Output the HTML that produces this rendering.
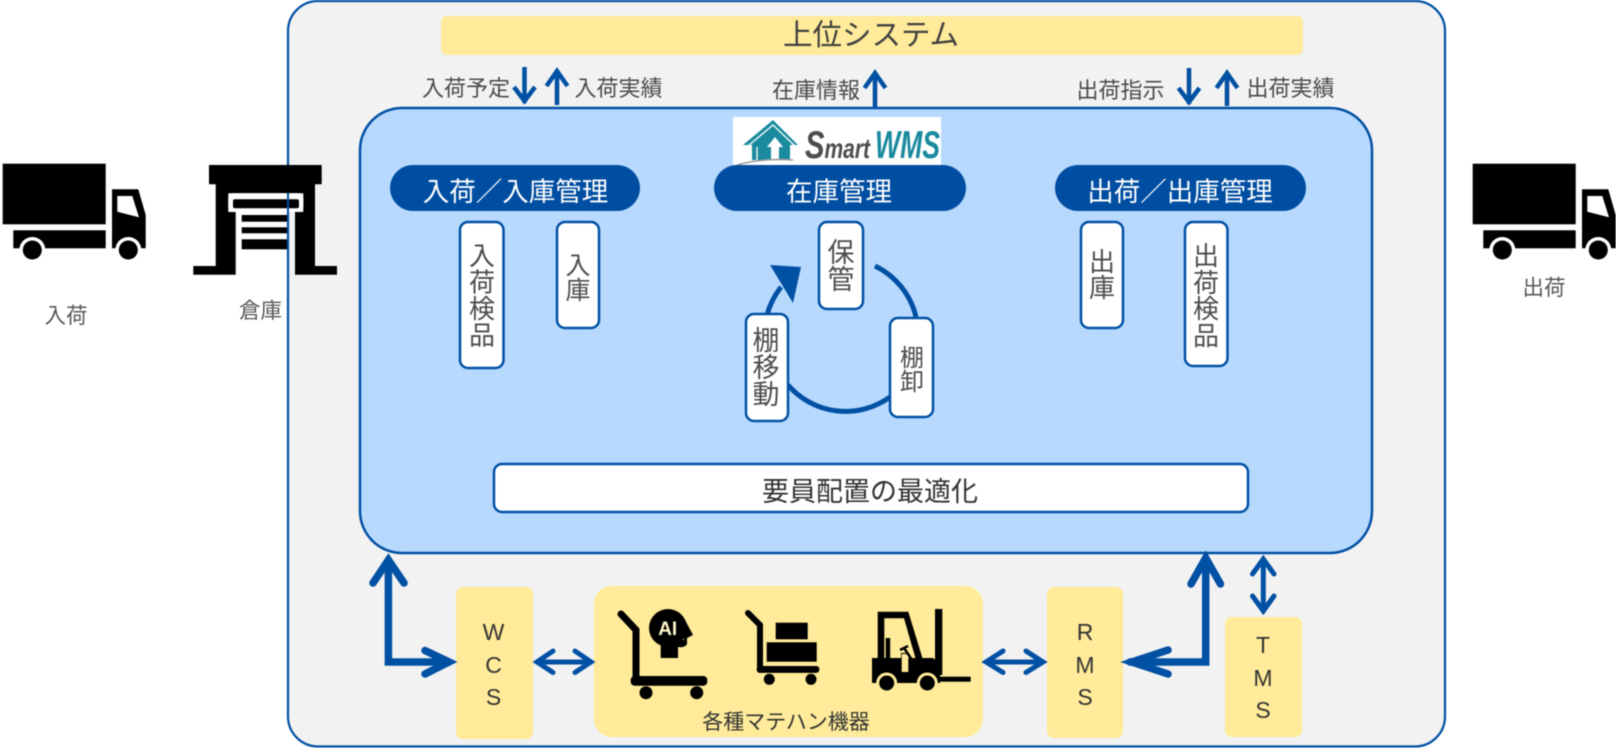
<!DOCTYPE html>
<html lang="ja"><head><meta charset="utf-8"><title>Smart WMS</title>
<style>
html,body{margin:0;padding:0;background:#fff;width:1616px;height:748px;overflow:hidden}
svg{display:block;filter:blur(.4px)}
text{font-family:"Liberation Sans","Noto Sans CJK JP",sans-serif;fill:#4a4a4a}
.m{text-anchor:middle}
.w{fill:#fff}
.v{fill:#4d4d4d}
.k{fill:#333}
.c{stroke:#0050a4;fill:none;stroke-linecap:round;stroke-linejoin:miter}
.box{fill:#fff;stroke:#0050a4;stroke-width:2.5}
.y{fill:#ffeb99}
</style></head><body>
<svg width="1616" height="748" viewBox="0 0 1616 748" xmlns="http://www.w3.org/2000/svg">
<!-- outer -->
<rect x="288" y="1" width="1157" height="745.5" rx="30" fill="#f2f2f2" stroke="#0050a4" stroke-width="2.2"/>
<rect x="441" y="16" width="862" height="39" rx="6" class="y"/>
<text x="871" y="45" font-size="29.500" class="m" style="fill:#404040">上位システム</text>
<!-- inner -->
<rect x="360" y="108" width="1012" height="445" rx="42" fill="#b8d9fe" stroke="#0050a4" stroke-width="2.5"/>

<!-- top labels -->
<text x="466" y="96" font-size="22" class="m">入荷予定</text>
<text x="618.500" y="96" font-size="22" class="m">入荷実績</text>
<text x="816" y="98" font-size="22" class="m">在庫情報</text>
<text x="1120.500" y="98" font-size="22" class="m">出荷指示</text>
<text x="1290.500" y="96" font-size="22" class="m">出荷実績</text>
<!-- top arrows -->
<g class="c" stroke-width="4.5" style="stroke-linecap:butt">
<path d="M524.500 67V103M514 87L524.500 101L535 87"/>
<path d="M557 105V70M546.500 86L557 71L567.500 86"/>
<path d="M875 108V72M864.500 88L875 73L885.500 88"/>
<path d="M1189 68V104M1178.500 88L1189 102L1199.500 88"/>
<path d="M1227 106V72M1216.500 88L1227 73L1237.500 88"/>
</g>

<!-- logo -->
<rect x="733" y="117" width="208" height="48" fill="#fff"/>
<path d="M773 120L798 145H790V160H752V145H743Z" fill="#1a8a9e"/>
<path d="M748 146L773 125L795 146" fill="none" stroke="#fff" stroke-width="1.300"/>
<path d="M775 137L783 147H779V160H771V147H767Z" fill="#fff"/>
<path d="M757 147V160" stroke="#fff" stroke-width="1.300"/>
<path d="M737 165Q760 158 793 160" stroke="#999" stroke-width="1.500" fill="none"/>
<text x="805" y="158" font-weight="bold" font-style="italic" textLength="65" lengthAdjust="spacingAndGlyphs" style="fill:#4d4d4d"><tspan font-size="39">S</tspan><tspan font-size="28">mart</tspan></text>
<text x="875" y="158" font-size="39" font-weight="bold" font-style="italic" textLength="65" lengthAdjust="spacingAndGlyphs" style="fill:#1a8a9e">WMS</text>

<!-- pills -->
<rect x="390" y="165" width="250" height="46" rx="23" fill="#004ea2"/>
<rect x="714" y="165" width="252" height="46" rx="23" fill="#004ea2"/>
<rect x="1055" y="165" width="251" height="46" rx="23" fill="#004ea2"/>
<text x="515.500" y="201" font-size="26.500" class="m w">入荷／入庫管理</text>
<text x="839" y="201" font-size="26.500" class="m w">在庫管理</text>
<text x="1180" y="201" font-size="26.500" class="m w">出荷／出庫管理</text>

<!-- cycle -->
<g class="c" stroke-width="5" style="stroke-linecap:butt">
<path d="M875 266A76 76 0 0 1 916 317"/>
<path d="M788 385A76 76 0 0 0 890 397"/>
<path d="M767 315Q771 300 781 287"/>
</g>
<path d="M770 265L801 267L793 303Z" fill="#0050a4"/>

<!-- white boxes -->
<rect x="460" y="222" width="43.500" height="146" rx="8" class="box"/>
<rect x="557" y="222" width="42" height="106" rx="8" class="box"/>
<rect x="819" y="222" width="44" height="87" rx="8" class="box"/>
<rect x="746" y="314" width="42" height="107" rx="8" class="box"/>
<rect x="890" y="318" width="43" height="99" rx="8" class="box"/>
<rect x="1081" y="222" width="42" height="106" rx="8" class="box"/>
<rect x="1185" y="222" width="42.500" height="144" rx="8" class="box"/>
<text font-size="26" class="m v" x="482 482 482 482" y="265 291.500 318 344.500">入荷検品</text>
<text font-size="25" class="m v" x="578 578" y="274 299">入庫</text>
<text font-size="26" class="m v" x="1102 1102" y="271 297">出庫</text>
<text font-size="26" class="m v" x="1206 1206 1206 1206" y="265 292 318 345">出荷検品</text>
<text font-size="27" class="m v" x="841 841" y="262 289">保管</text>
<text font-size="27" class="m v" x="766 766 766" y="350 377 404">棚移動</text>
<text font-size="24" class="m v" x="912 912" y="366 390">棚卸</text>

<rect x="494" y="464" width="754" height="48" rx="8" class="box"/>
<text x="870" y="501" font-size="27" class="m k">要員配置の最適化</text>

<!-- trucks -->
<g>
<rect x="2.700" y="163.700" width="103" height="60.600"/>
<rect x="13.300" y="230.300" width="92.400" height="18"/>
<path d="M112 189.300H138.300L145.700 215V248.300H112Z"/>
<path d="M117.300 196H132.300L139 217.300L117.300 211.700Z" fill="#fff"/>
<circle cx="32.300" cy="250" r="13" fill="#fff"/><circle cx="128.300" cy="250" r="13" fill="#fff"/>
<circle cx="32.300" cy="250" r="9.500"/>
<circle cx="128.300" cy="250" r="9.500"/>
</g>
<g transform="translate(1470 0)">
<rect x="2.700" y="163.700" width="103" height="60.600"/>
<rect x="13.300" y="230.300" width="92.400" height="18"/>
<path d="M112 189.300H138.300L145.700 215V248.300H112Z"/>
<path d="M117.300 196H132.300L139 217.300L117.300 211.700Z" fill="#fff"/>
<circle cx="32.300" cy="250" r="13" fill="#fff"/><circle cx="128.300" cy="250" r="13" fill="#fff"/>
<circle cx="32.300" cy="250" r="9.500"/>
<circle cx="128.300" cy="250" r="9.500"/>
</g>
<text x="66" y="323" font-size="21.500" class="m" style="fill:#595959">入荷</text>
<text x="260.500" y="318" font-size="21.500" class="m" style="fill:#595959">倉庫</text>
<text x="1544" y="295" font-size="21.500" class="m" style="fill:#595959">出荷</text>

<!-- warehouse -->
<path d="M209 165H321.700V184.300H315V266H337V274.700H295V212H303.300V193.300H228.300V212H235.700V274.700H193.300V266H215.700V184.300H209Z"/>
<rect x="228.300" y="193.300" width="75" height="18.400" rx="5" fill="#fff"/>
<rect x="233" y="199.300" width="66" height="9" rx="2"/>
<rect x="241.700" y="215" width="46.500" height="6.700"/>
<rect x="241.700" y="227.300" width="46.500" height="6"/>
<rect x="241.700" y="239.300" width="46.500" height="10"/>
<path d="M288 193V250" stroke="#0050a4" stroke-width="2" fill="none"/>

<!-- bottom boxes -->
<rect x="456" y="587" width="77" height="152" rx="7" class="y"/>
<rect x="594" y="586" width="389" height="151" rx="18" class="y"/>
<rect x="1047" y="587" width="76" height="151" rx="7" class="y"/>
<rect x="1225" y="617" width="77" height="120" rx="7" class="y"/>
<text font-size="23" class="m k" x="493.500 493.500 493.500" y="640 673 705">WCS</text>
<text font-size="23" class="m k" x="1085 1085 1085" y="640 673 705">RMS</text>
<text font-size="23" class="m k" x="1263 1263 1263" y="653 686 718">TMS</text>
<text x="786" y="729" font-size="21" class="m k">各種マテハン機器</text>

<!-- big arrows -->
<g class="c" stroke-width="7.500">
<path d="M388.400 560V662H448"/>
<path d="M373 583L388.400 560L404 583"/>
<path d="M425 650.500L449 662L425 674"/>
<path d="M1205.700 558V662H1130"/>
<path d="M1191 584L1205.700 558L1220.500 584"/>
<path d="M1168 650L1132 662L1168 674"/>
</g>
<g class="c" stroke-width="5">
<path d="M538 662H590"/>
<path d="M553 651L537 662L553 672.500M575 651L591 662L575 672.500"/>
<path d="M987 662H1042"/>
<path d="M1003 651L986 662L1003 672.500M1026 651L1043 662L1026 672.500"/>
<path d="M1263.300 560V611"/>
<path d="M1252.500 574L1263.300 559L1274 574M1252.500 596L1263.300 611L1274 596"/>
</g>

<!-- cart AI -->
<g>
<path d="M621 614L636 630V681" fill="none" stroke="#000" stroke-width="7" stroke-linecap="round"/>
<rect x="630.700" y="676" width="76.600" height="9.700" rx="4"/>
<circle cx="646" cy="692.700" r="6.500"/>
<circle cx="696.700" cy="692.700" r="6.500"/>
<circle cx="668" cy="628" r="19"/>
<path d="M684 618L693 635L687 638V644Q685 648 678 647V658H660.700V640H684Z"/>
<text x="667.700" y="635" font-size="19" font-weight="bold" class="m" style="fill:#fff6c8">AI</text>
</g>
<!-- cart boxes -->
<g>
<path d="M748 613L760 625V668" fill="none" stroke="#000" stroke-width="6" stroke-linecap="round"/>
<rect x="756.700" y="666" width="62.600" height="6.900" rx="3"/>
<circle cx="769.300" cy="679.300" r="5.500"/>
<circle cx="811" cy="679.300" r="5.500"/>
<rect x="775.700" y="622.700" width="32" height="16.600"/>
<rect x="766.700" y="642.300" width="50" height="19.400"/>
</g>
<!-- forklift -->
<g>
<rect x="935" y="609" width="7.300" height="66"/>
<rect x="935" y="676.700" width="35.700" height="5"/>
<path d="M877.700 611.700H908.300L923 660H916L904 618.300H884.300V660H877.700Z"/>
<rect x="885.700" y="638" width="4.500" height="20"/>
<path d="M872 658H901V653H908V658H933L940 664V683H872Z"/>
<rect x="901.700" y="654" width="6.600" height="18" fill="#ffeb99"/>
<path d="M900 650L908 646M904 648L912 660" stroke="#000" stroke-width="2.500" fill="none"/>
<circle cx="886.700" cy="683" r="10.500" fill="#ffeb99"/>
<circle cx="927.300" cy="683" r="10.500" fill="#ffeb99"/>
<circle cx="886.700" cy="683" r="7.500"/>
<circle cx="927.300" cy="683" r="7.500"/>
</g>
</svg>
</body></html>
